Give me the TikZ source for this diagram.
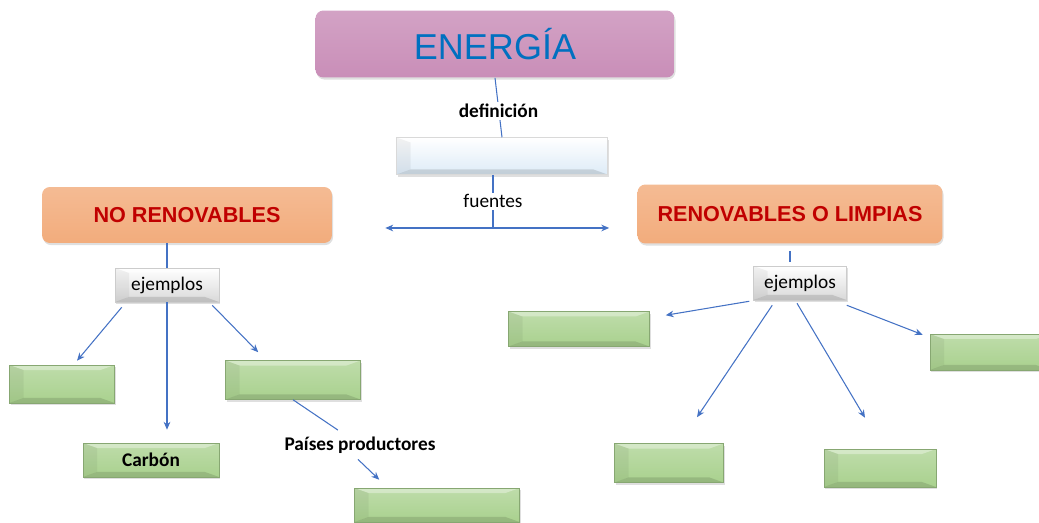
\documentclass[tikz,border=0pt]{standalone}
\usepackage{fontspec}
\setmainfont{Carlito}
\newfontfamily\arialfont{Liberation Sans}
\usetikzlibrary{arrows.meta, calc, shadows}

\definecolor{energiaPink}{RGB}{201,142,184}
\definecolor{boxOrange}{RGB}{242,172,124}
\definecolor{titleRed}{RGB}{192,0,0}
\definecolor{titleBlue}{RGB}{0,112,192}
\definecolor{defBlue}{RGB}{221,235,247}
\definecolor{boxGreen}{RGB}{169,209,142}
\definecolor{linkBlue}{RGB}{68,114,196}

\tikzset{
  bevel/.style={path picture={
    \path (path picture bounding box.north west) coordinate (bvnw)
          (path picture bounding box.south east) coordinate (bvse);
    \fill[white, opacity=0.35] (bvnw) -- (bvnw -| bvse) -- ++(-0.28cm,-0.1cm)
      -- ($(bvnw)+(0.28cm,-0.1cm)$) -- cycle;
    \fill[black, opacity=0.12] (bvse) -- (bvse -| bvnw) -- ++(0.28cm,0.1cm)
      -- ($(bvse)+(-0.28cm,0.1cm)$) -- cycle;
    \fill[black, opacity=0.05] (bvnw) -- ($(bvnw)+(0.28cm,-0.1cm)$)
      -- ($(bvse -| bvnw)+(0.28cm,0.1cm)$) -- (bvse -| bvnw) -- cycle;
  }},
  softshadow/.style={drop shadow={opacity=0.25, shadow xshift=0.6pt, shadow yshift=-1.2pt}},
  greenbox/.style={rectangle, draw=boxGreen!80!black, line width=0.3pt, softshadow,
    top color=boxGreen!75!white, bottom color=boxGreen, bevel,
    inner sep=0pt, font=\fontsize{11}{13}\selectfont\bfseries},
  titlebox/.style={rectangle, rounded corners=4.5pt, softshadow, inner sep=0pt,
    font=\arialfont\bfseries\fontsize{12.3}{15}\selectfont, text=titleRed},
  exbox/.style={rectangle, draw=gray!40, line width=0.3pt, softshadow, bevel,
    top color=white, bottom color=gray!30, inner sep=0pt, font=\fontsize{11}{13}\selectfont},
  link/.style={draw=linkBlue, line width=0.6pt},
  linklabel/.style={fill=white, inner sep=1pt, font=\fontsize{11}{13}\selectfont},
}

\begin{document}
\begin{tikzpicture}[x=0.02cm, y=-0.02cm, >={Stealth[length=4.5pt, width=3.8pt]}]
  \useasboundingbox (0,0) rectangle (1039,523);

  % main concept
  \node[titlebox, minimum width=7.18cm, minimum height=1.34cm,
        top color=energiaPink!82!white, bottom color=energiaPink,
        text=titleBlue, font=\arialfont\fontsize{20.5}{24}\selectfont] (energia) at (495,44) {ENERGÍA};
  \node[rectangle, draw=gray!30, line width=0.3pt, softshadow, bevel, top color=white,
        bottom color=defBlue, minimum width=4.22cm, minimum height=0.74cm] (defbox) at (502,156) {};

  \node[titlebox, minimum width=5.8cm, minimum height=1.12cm,
        top color=boxOrange!82!white, bottom color=boxOrange] (noren) at (187,215) {NO RENOVABLES};
  \node[titlebox, minimum width=6.1cm, minimum height=1.18cm,
        top color=boxOrange!82!white, bottom color=boxOrange] (ren) at (790,214) {RENOVABLES O LIMPIAS};

  \node[exbox, minimum width=2.08cm, minimum height=0.68cm] (ejA) at (167,285) {ejemplos};
  \node[exbox, minimum width=1.86cm, minimum height=0.68cm] (ejB) at (800,283) {ejemplos};

  % example boxes
  \foreach \nm/\pos/\w/\h in {g1/{(62,384)}/2.1/0.76, g3/{(293,380)}/2.7/0.78,
      g4/{(437,505)}/3.3/0.68, r1/{(579,329)}/2.82/0.7, r2/{(990,352)}/2.4/0.72,
      r3/{(669,463)}/2.18/0.78, r4/{(880,468)}/2.24/0.76} {
    \node[greenbox, minimum width=\w cm, minimum height=\h cm] (\nm) at \pos {};
  }
  \node[greenbox, minimum width=2.72cm, minimum height=0.68cm] (carbon) at (151,460) {Carbón};

  % connectors
  \draw[link] (energia.south) -- node[linklabel, font=\fontsize{11}{13}\selectfont\bfseries, yshift=-2pt] {definición} (defbox.north);
  \coordinate (fork) at (493,228);
  \draw[link] (defbox.south -| fork) -- node[linklabel] (fuentes) {fuentes} (fork);
  \draw[link, ->, shorten >=1.06cm] (fork) -- (fork -| noren.east);
  \draw[link, ->, shorten >=0.56cm] (fork) -- (fork -| ren.west);

  \draw[link] (ejA.north) -- (ejA.north |- noren.south);
  \draw[link, shorten <=7*0.02cm, shorten >=4*0.02cm] (ren.south) -- (ren.south |- ejB.north);

  \draw[link, ->] ($(ejA.south west)+(7,5)$) -- ($(g1.north)+(15,-4)$);
  \draw[link, ->, shorten >=0.26cm] (ejA.south) -- (ejA.south |- carbon.north);
  \draw[link, ->] ($(ejA.south east)+(-7,3)$) -- ($(g3.north west)+(33,-8)$);

  \node[linklabel, font=\fontsize{11}{13}\selectfont\bfseries] (paises) at (360,445) {Países productores};
  \draw[link] (g3.south) -- ($(g3.south)!0.67!(paises.center)$);
  \draw[link, ->] ($(paises.south)+(-2,4)$) -- ($(g4.north west)+(25,-8)$);

  \draw[link, ->] ($(ejB.south west)+(-4,1)$) -- ($(r1.north east)+(16,4)$);
  \draw[link, ->] ($(ejB.south west)+(19,5)$) -- ($(r3.north)+(28,-26)$);
  \draw[link, ->] ($(ejB.south)+(-3,3)$) -- ($(r4.north)+(-15,-31)$);
  \draw[link, ->] ($(ejB.south east)+(0,5)$) -- ($(r2.north west)+(-7,1)$);
\end{tikzpicture}
\end{document}
